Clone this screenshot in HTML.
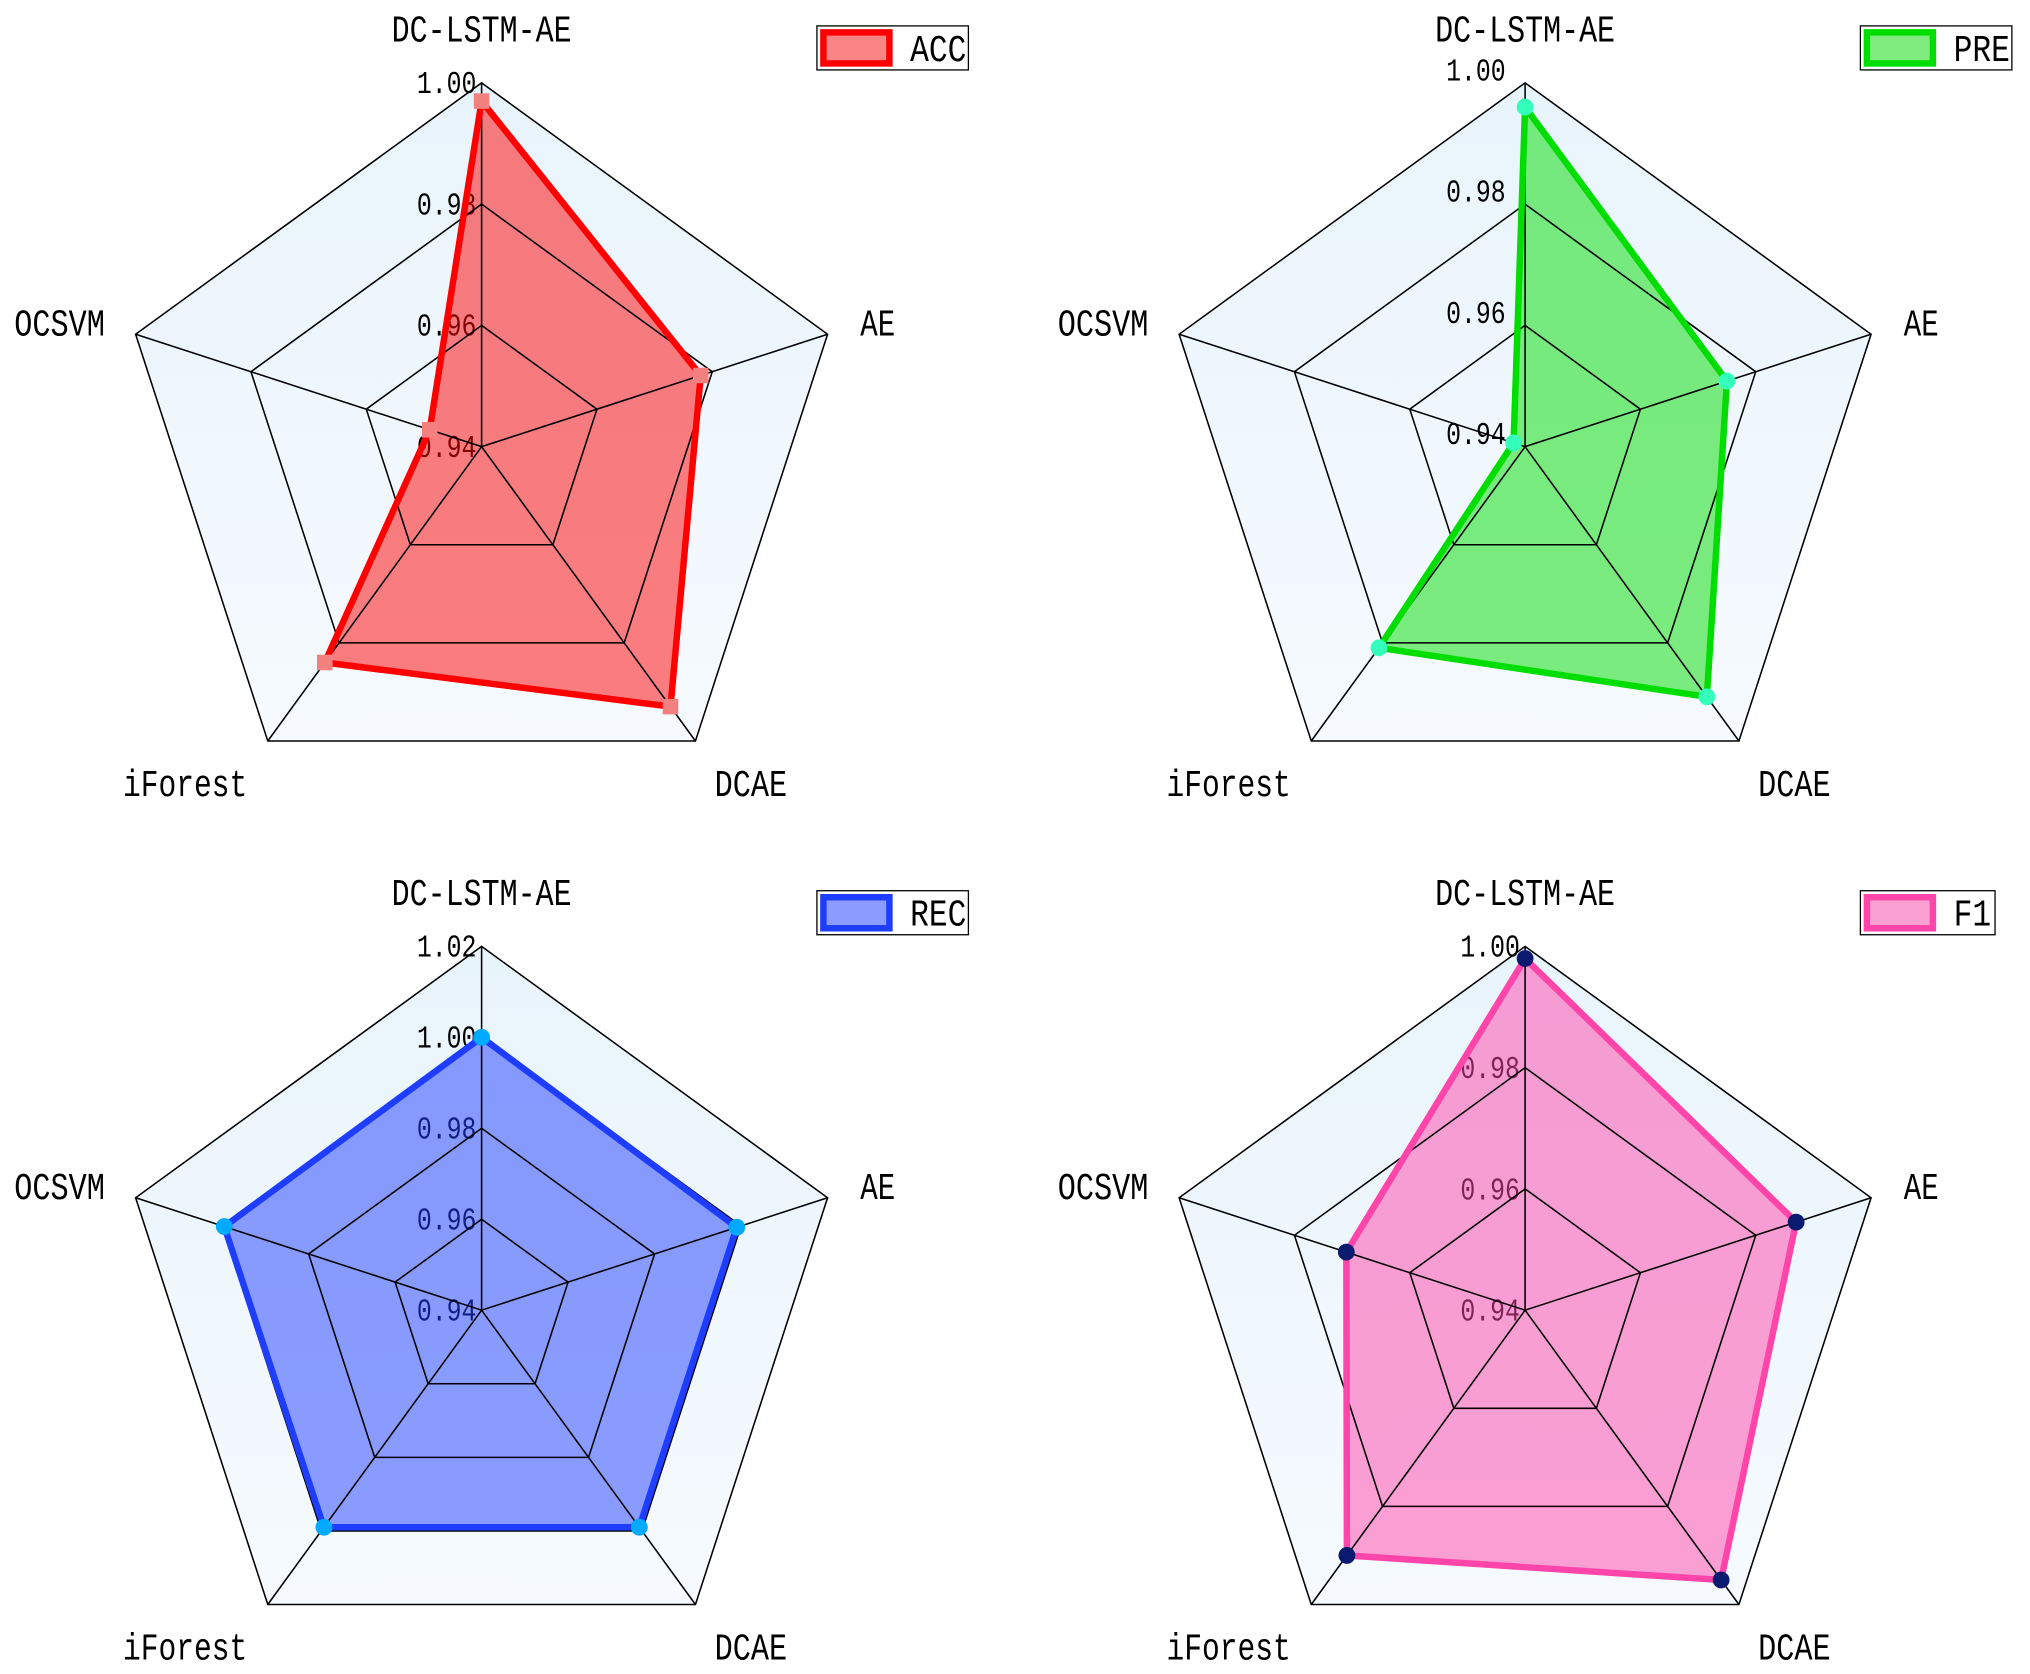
<!DOCTYPE html>
<html><head><meta charset="utf-8">
<style>
html,body{margin:0;padding:0;background:#fff;}
svg{display:block;}
text{font-family:"Liberation Mono","Noto Sans CJK SC",monospace;fill:#000;}
</style></head>
<body>
<svg id="chart" width="2030" height="1674" viewBox="0 0 1568 1293" xmlns="http://www.w3.org/2000/svg">
<defs>
<linearGradient id="bg" x1="0" y1="0" x2="0" y2="1">
<stop offset="0" stop-color="#e8f4fc"/><stop offset="1" stop-color="#f6fafe"/>
</linearGradient>
</defs>
</svg>
<script>
const categories = ["DC-LSTM-AE","AE","DCAE","iForest","OCSVM"];
const accValues = [0.997, 0.978, 0.993, 0.984, 0.949];
const preValues = [0.996, 0.975, 0.991, 0.981, 0.942];
const recValues = [1.000, 0.999, 0.999, 0.999, 0.9995];
const f1Values  = [0.998, 0.987, 0.995, 0.990, 0.971];
const ticksA = [0.94, 0.96, 0.98, 1.00];
const ticksR = [0.94, 0.96, 0.98, 1.00, 1.02];
const tickLabelsA = ["0.94","0.96","0.98","1.00"];
const tickLabelsR = ["0.94","0.96","0.98","1.00","1.02"];

const NS = "http://www.w3.org/2000/svg";
const svg = document.getElementById("chart");
function mk(tag, attrs, parent){
  const e = document.createElementNS(NS, tag);
  for (const k in attrs) e.setAttribute(k, attrs[k]);
  (parent||svg).appendChild(e);
  return e;
}
const R = 281;
const charts = [
  {key:"acc", name:"ACC", vals:accValues, ticks:ticksA, tl:tickLabelsA, cx:372, cy:345, lx:631, ly:20, lw:117, labDy:0, labX:368,
   stroke:"#ff0000", fill:"rgba(255,0,0,0.5)", mk:"#f48080", marker:"square", legFill:"#f98585"},
  {key:"pre", name:"PRE", vals:preValues, ticks:ticksA, tl:tickLabelsA, cx:1178, cy:345, lx:1437, ly:20, lw:117, labDy:-10, labX:1163,
   stroke:"#00dd00", fill:"rgba(0,221,0,0.5)", mk:"#33ffbb", marker:"circle", legFill:"#80ec80"},
  {key:"rec", name:"REC", vals:recValues, ticks:ticksR, tl:tickLabelsR, cx:372, cy:1012, lx:631, ly:688, lw:117, labDy:0, labX:368,
   stroke:"#1f3dff", fill:"rgba(31,61,255,0.5)", mk:"#00aaff", marker:"circle", legFill:"#8a9cff"},
  {key:"f1", name:"F1", vals:f1Values, ticks:ticksA, tl:tickLabelsA, cx:1178, cy:1012, lx:1437, ly:688, lw:104, labDy:0, labX:1174,
   stroke:"#ff44aa", fill:"rgba(255,68,170,0.5)", mk:"#0a1a6e", marker:"circle", legFill:"#fba0d2"}
];
function ang(i){ return (-90 + 72*i) * Math.PI/180; }
function pt(c, i, r){ return [c.cx + r*Math.cos(ang(i)), c.cy + r*Math.sin(ang(i))]; }
const catPos = [[0,-323],[306,-96],[208,260],[-229,260],[-326,-96]];
const catW = [139, 27, 56, 96, 70];

charts.forEach(c => {
  const g = mk("g", {});
  
  
  const mn = c.ticks[0], mx = c.ticks[c.ticks.length-1];
  const rs = v => (v - mn) / (mx - mn) * R;
  const outer = categories.map((_, i) => pt(c, i, R).join(",")).join(" ");
  const bgp = mk("polygon", {points: outer, fill:"url(#bg)", stroke:"none"}, g);
  
  
  c.ticks.forEach((t, k) => {
    const y = c.cy - rs(t) + c.labDy;
    const tx = mk("text", {x:c.labX, y:y+8, "font-size":24, "text-anchor":"end", textLength:46, lengthAdjust:"spacingAndGlyphs"}, g);
    tx.textContent = c.tl[k];
    
    
  });
  const dpts = c.vals.map((v, i) => pt(c, i, rs(v)).join(",")).join(" ");
  const fp = mk("polygon", {points:dpts, fill:c.fill, stroke:"none"}, g);
  
  
  c.ticks.forEach(t => {
    if (t === mn) return;
    const p = categories.map((_, i) => pt(c, i, rs(t)).join(",")).join(" ");
    const ring = mk("polygon", {points:p, fill:"none", stroke:"#000", "stroke-width":1.2}, g);
    
    
  });
  categories.forEach((_, i) => {
    const [x, y] = pt(c, i, R);
    const ax = mk("line", {x1:c.cx, y1:c.cy, x2:x, y2:y, stroke:"#000", "stroke-width":1.2}, g);
    
    
  });
  const ol = mk("polygon", {points:dpts, fill:"none", stroke:c.stroke, "stroke-width":5, "stroke-linejoin":"miter"}, g);
  
  
  c.vals.forEach((v, i) => {
    const [x, y] = pt(c, i, rs(v));
    let m;
    if (c.marker === "square") m = mk("rect", {x:x-6, y:y-6, width:12, height:12, fill:c.mk}, g);
    else m = mk("circle", {cx:x, cy:y, r:6.5, fill:c.mk}, g);
    
    
  });
  categories.forEach((name, i) => {
    const [dx, dy] = catPos[i];
    const t = mk("text", {x:c.cx+dx, y:c.cy+dy+10, "font-size":29, "text-anchor":"middle", textLength:catW[i], lengthAdjust:"spacingAndGlyphs"}, g);
    t.textContent = name;
    
    
  });
  const lg = mk("g", {}, g);
  
  
  mk("rect", {x:c.lx, y:c.ly, width:c.lw, height:34, fill:"#fff", stroke:"#000", "stroke-width":1}, lg);
  mk("rect", {x:c.lx+5, y:c.ly+5, width:51, height:24, fill:c.legFill, stroke:c.stroke, "stroke-width":5}, lg);
  const lt = mk("text", {x:c.lx+72, y:c.ly+27, "font-size":29, textLength:c.name.length*14.5, lengthAdjust:"spacingAndGlyphs"}, lg);
  lt.textContent = c.name;
  
  
});
</script>
</body></html>
